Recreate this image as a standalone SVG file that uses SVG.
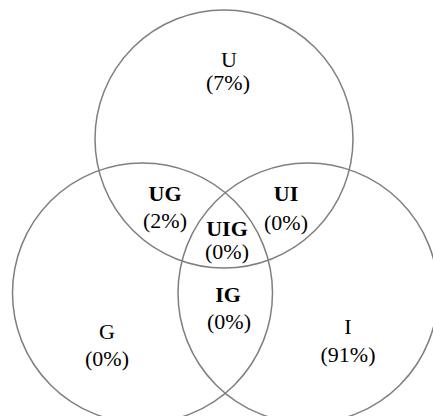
<svg xmlns="http://www.w3.org/2000/svg" width="433" height="416" viewBox="0 0 433 416">
<style>
.c{fill:none;stroke:#7f7f7f;stroke-width:1.5}
text{font-family:"Liberation Serif","Times New Roman",serif;font-size:22px;fill:#000;text-anchor:middle}
.b{font-weight:bold}
</style>
<rect width="433" height="416" fill="#fff"/>
<g id="U"><circle class="c" cx="224" cy="139" r="129"/></g>
<g id="G"><circle class="c" cx="142.5" cy="293" r="130"/></g>
<g id="I"><circle class="c" cx="308" cy="293" r="130"/></g>
<g id="labels">
<text x="229" y="67">U</text><text x="228" y="90">(7%)</text>
<text class="b" x="165" y="201">UG</text><text x="165" y="228">(2%)</text>
<text class="b" x="286" y="201">UI</text><text x="286" y="230">(0%)</text>
<text class="b" x="227" y="236">UIG</text><text x="227" y="259">(0%)</text>
<text class="b" x="228" y="302">IG</text><text x="229" y="329">(0%)</text>
<text x="107" y="339">G</text><text x="107" y="366">(0%)</text>
<text x="348" y="334">I</text><text x="348" y="362">(91%)</text>
</g>
</svg>
